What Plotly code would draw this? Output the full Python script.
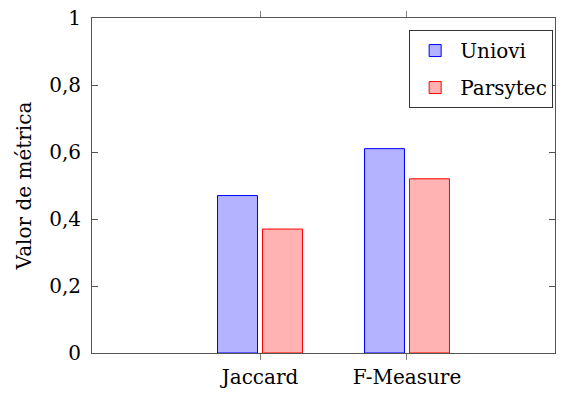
import plotly.graph_objects as go

categories = ["Jaccard", "F-Measure"]
uniovi = [0.47, 0.61]
parsytec = [0.37, 0.52]
y_tick_vals = [0, 0.2, 0.4, 0.6, 0.8, 1]
y_tick_text = ["0", "0,2", "0,4", "0,6", "0,8", "1"]
y_title = "Valor de métrica"

xpos = list(range(len(categories)))
off = 0.153
bw = 0.272

fig = go.Figure()
fig.add_trace(go.Bar(
    x=[p - off for p in xpos], y=uniovi, name="Uniovi", width=bw, legendgroup="u",
    marker=dict(color="#b3b3ff", line=dict(color="#0000ff", width=1)),
))
fig.add_trace(go.Bar(
    x=[p + off for p in xpos], y=parsytec, name="Parsytec", width=bw, legendgroup="p",
    marker=dict(color="#ffb3b3", line=dict(color="#ff0000", width=1)),
))

FAM = "DejaVu Serif"
SZ = 20
font = dict(family=FAM, size=SZ, color="black")

fig.update_layout(
    width=569, height=396,
    autosize=False,
    margin=dict(l=84, r=22, t=10, b=51, autoexpand=False),
    paper_bgcolor="white", plot_bgcolor="white",
    font=font,
    showlegend=True,
    barmode="overlay",
    legend=dict(
        x=0.996, y=0.964, xanchor="right", yanchor="top",
        bordercolor="#333333", borderwidth=1, bgcolor="white",
        font=dict(family=FAM, size=SZ, color="black"),
        tracegroupgap=8, itemwidth=40,
    ),
    xaxis=dict(
        range=[-1.143, 2.007],
        tickvals=xpos, ticktext=categories,
        ticks="outside", ticklen=6, tickcolor="#808080", tickwidth=1,
        showline=True, linecolor="#555555", linewidth=1, mirror="ticks",
        showgrid=False, zeroline=False, automargin=False,
        tickfont=dict(family=FAM, size=SZ, color="black"),
        ticklabeloverflow="allow",
    ),
    yaxis=dict(
        range=[0, 1],
        tickvals=y_tick_vals, ticktext=y_tick_text,
        ticks="inside", ticklen=6, tickcolor="#555555", tickwidth=1,
        showline=True, linecolor="#555555", linewidth=1, mirror="ticks",
        showgrid=False, zeroline=False, automargin=False,
        tickfont=dict(family=FAM, size=SZ, color="black"),
        ticklabeloverflow="allow", ticklabelstandoff=6,
    ),
    annotations=[dict(
        text=y_title, textangle=-90, xref="paper", yref="paper",
        x=-0.147, y=0.5, xanchor="center", yanchor="middle", showarrow=False,
        font=dict(family=FAM, size=SZ, color="black"),
    )],
)

fig.write_html("out.html")
